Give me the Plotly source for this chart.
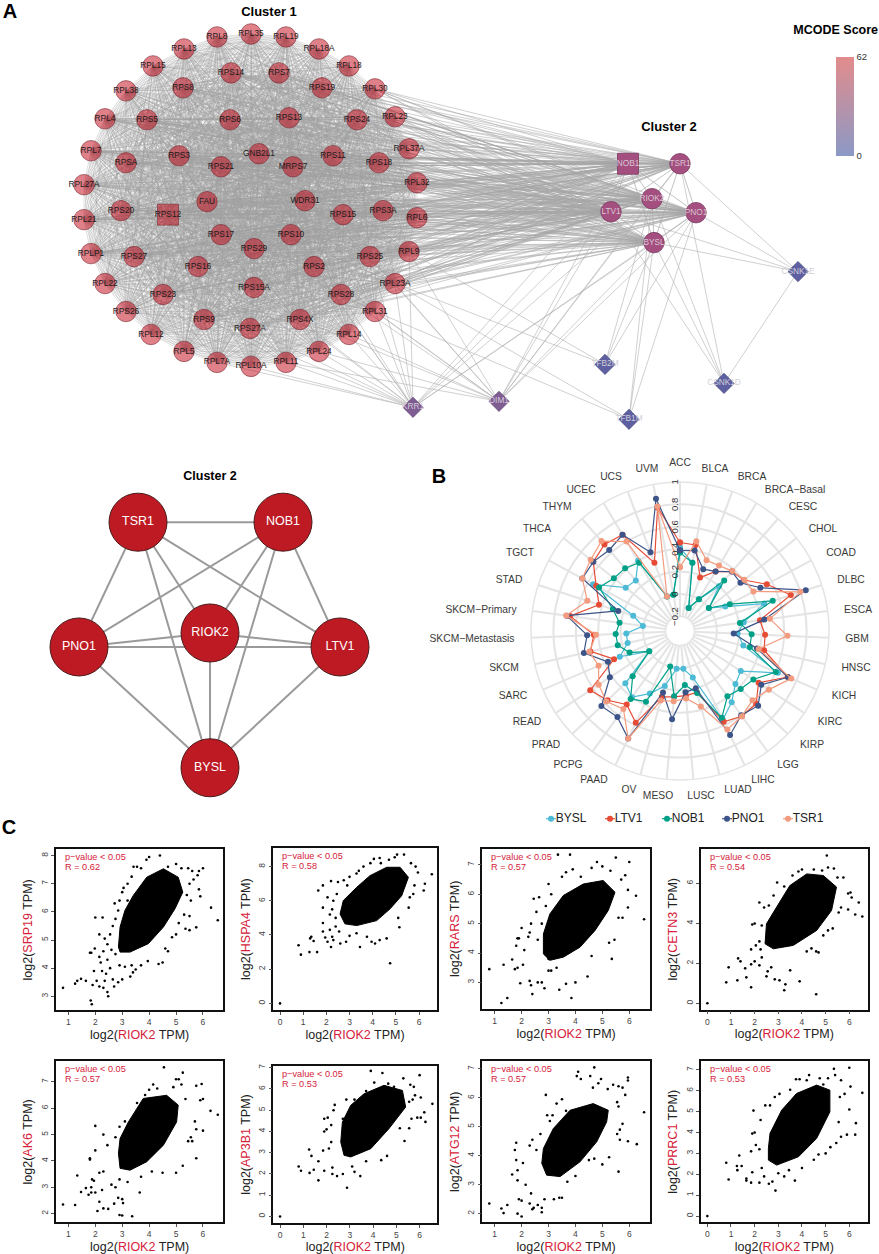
import plotly.graph_objects as go

W, H = 879, 1254
FONT = "Liberation Sans, Arial, sans-serif"

OUTER_NODES = {
 "RPL8":(217,35),"RPL35":(251,32),"RPL19":(286,35),"RPL18A":(319,47),"RPL18":(349,64),"RPL30":(375,87),
 "RPL23":(395,115),"RPL37A":(409,147),"RPL32":(417,181),"RPL6":(417,216),"RPL9":(409,250),"RPL23A":(395,282),
 "RPL31":(375,310),"RPL14":(349,333),"RPL24":(319,350),"RPL11":(286,361),"RPL10A":(251,365),"RPL7A":(217,361),
 "RPL5":(184,350),"RPL12":(151,333),"RPS26":(126,310),"RPL22":(105,282),"RPLP1":(91,252),"RPL21":(84,218),
 "RPL27A":(84,183),"RPL7":(91,149),"RPL4":(105,117),"RPL38":(126,89),"RPL15":(153,64),"RPL13":(184,47)}
INNER_NODES = {
 "RPS14":(231,71),"RPS7":(279,71),"RPS8":(183,86),"RPS19":(322,86),"RPS5":(147,118),"RPS6":(230,118),
 "RPS13":(289,116),"RPS24":(357,118),"RPS3":(179,154),"GNB2L1":(259,152),"RPS11":(333,154),"RPSA":(126,161),
 "RPS21":(221,165),"MRPS7":(293,165),"RPS18":(379,161),"FAU":(207,200),"WDR31":(305,199),"RPS20":(121,209),
 "RPS15":(343,213),"RPS3A":(383,209),"RPS17":(221,233),"RPS10":(291,233),"RPS29":(254,247),
 "RPS27":(134,255),"RPS16":(198,265),"RPS2":(314,265),"RPS25":(370,255),"RPS15A":(254,286),"RPS23":(163,293),
 "RPS28":(341,293),"RPS9":(204,318),"RPS4X":(300,318),"RPS27A":(250,327)}
SQUARE_NODE_C1 = {"RPS12":(168,213)}
CLUSTER2_NODES = {"TSR1":(680,162),"RIOK2":(652,197),"LTV1":(611,210),"PNO1":(696,211),"BYSL":(654,241)}
SQUARE_NODE_C2 = {"NOB1":(628,162)}
DARK_DIAMONDS = {"KRR1":(413,406),"DIM1":(499,400)}
BLUE_DIAMONDS = {"CSNK1E":(798,270),"TFB2M":(605,363),"CSNK1D":(724,382),"TFB1M":(629,418)}

C2_TO_C1 = list(INNER_NODES) + list(SQUARE_NODE_C1) + ["RPL30","RPL23","RPL37A","RPL32","RPL6","RPL9","RPL23A",
            "RPL7","RPL27A","RPL21","RPLP1","RPL4"]
KRR1_TO_C1 = ["RPL11","RPL24","RPL14","RPL31","RPL23A","RPS28","RPS4X","RPS27A","RPS25","RPL9","RPS9","RPS2","RPL10A","RPL7A","RPS15A","RPS10"]
DIM1_TO_C1 = ["RPL14","RPL31","RPL23A","RPS28","RPS25","RPL9","RPS4X","RPL24","RPS2","RPL11"]
OTHER_EDGES = [("KRR1","NOB1"),("KRR1","LTV1"),("KRR1","RIOK2"),("KRR1","BYSL"),("KRR1","PNO1"),
 ("DIM1","NOB1"),("DIM1","LTV1"),("DIM1","RIOK2"),("DIM1","BYSL"),("DIM1","PNO1"),("DIM1","TSR1"),
 ("TFB2M","BYSL"),("TFB2M","PNO1"),("TFB2M","RIOK2"),("TFB2M","RPL23A"),("TFB2M","RPL9"),
 ("TFB1M","BYSL"),("TFB1M","RIOK2"),("TFB1M","PNO1"),("TFB1M","RPL31"),("TFB1M","RPL23A"),
 ("CSNK1D","BYSL"),("CSNK1D","LTV1"),("CSNK1D","TSR1"),("CSNK1D","RIOK2"),("CSNK1D","CSNK1E"),
 ("CSNK1E","TSR1"),("CSNK1E","PNO1"),("CSNK1E","BYSL"),("CSNK1E","LTV1")]

MCODE_RANGE = [0, 62]

# ---------- Cluster 2 detail
DETAIL_NODES = {"TSR1":(138,521),"NOB1":(283,521),"RIOK2":(210,632),"PNO1":(79,646),"LTV1":(340,646),"BYSL":(210,767)}

# ---------- Panel B data
TUMORS = ["ACC","BLCA","BRCA","BRCA−Basal","CESC","CHOL","COAD","DLBC","ESCA","GBM","HNSC","KICH","KIRC","KIRP","LGG",
          "LIHC","LUAD","LUSC","MESO","OV","PAAD","PCPG","PRAD","READ","SARC","SKCM","SKCM−Metastasis","SKCM−Primary",
          "STAD","TGCT","THCA","THYM","UCEC","UCS","UVM"]
BYSL = [0.415,0.29,-0.11,0.0,0.20,0.0,0.13,0.46,0.245,0.185,0.25,0.62,0.32,0.355,0.455,0.55,0.10,0.01,0.01,0.18,0.29,
        0.40,0.345,0.0,0.255,0.15,0.15,0.005,0.11,0.55,0.29,0.27,0.40,0.0,0.0]
LTV1 = [0.46,0.45,0.18,0.29,0.375,0.40,0.55,0.71,0.39,0.43,0.44,0.715,0.51,0.61,0.61,0.57,0.24,0.25,0.26,0.28,0.58,
        0.48,0.565,0.63,0.31,0.49,0.44,0.66,0.43,0.52,0.66,0.695,0.67,0.32,0.79]
NOB1 = [0.37,0.29,-0.11,0.0,0.27,0.0,0.175,0.54,0.21,0.31,0.31,0.60,0.455,0.42,0.39,0.53,0.245,0.155,0.255,0.0,0.37,
        0.42,0.255,0.0,0.16,0.24,0.245,0.215,0.30,0.49,0.425,0.415,0.38,0.0,0.0]
PNO1 = [0.39,0.40,0.26,0.29,0.375,0.36,0.485,0.85,0.43,0.15,0.375,0.72,0.54,0.635,0.60,0.70,0.20,0.22,0.46,0.24,0.735,
        0.62,0.64,0.42,0.37,0.55,0.50,0.69,0.25,0.66,0.66,0.63,0.67,0.42,0.87]
TSR1 = [0.24,0.485,0.345,0.35,0.38,0.405,0.415,0.80,0.48,0.63,0.39,0.75,0.62,0.565,0.61,0.645,0.37,0.275,0.30,0.315,
        0.735,0.53,0.58,0.54,0.46,0.50,0.42,0.695,0.54,0.66,0.69,0.735,0.60,0.0,0.80]
RADAR_SERIES = [("BYSL",BYSL,"#4DBBD5"),("LTV1",LTV1,"#E64B35"),("NOB1",NOB1,"#00A087"),("PNO1",PNO1,"#3C5488"),("TSR1",TSR1,"#F39B7F")]
RADIAL_TICKS = [-0.2,0,0.2,0.4,0.6,0.8,1]
RADIAL_TEXT = ["−0.2","0","0.2","0.4","0.6","0.8","1"]
TUMOR_LABEL_POS = [(680,462),(715,468),(752,476),(795,489),(803,506),(823,528),(841,552),(851,579),(858,609),(857,638),
 (856,668),(844,696),(830,722),(812,745),(788,765),(763,780),(738,790),(701,796),(658,796),(629,790),(594,780),(568,765),
 (546,745),(527,722),(513,696),(504,668),(472,638),(481,609),(509,579),(520,552),(537,528),(557,506),(581,489),(611,476),(647,468)]

# ---------- Panel C data: dense-core outlines and individually read points (log2 TPM)
SRP19_CORE = [(2.86,4.75),(2.92,5.46),(3.1,6.05),(3.41,6.58),(3.91,7.23),(4.53,7.53),(5.08,7.23),(5.25,6.7),(4.96,6.11),(4.53,5.46),(3.97,4.87),(3.29,4.57),(2.92,4.57)]
SRP19_PTS = [(0.8,3.3),(1.25,3.45),(1.33,3.55),(1.47,3.62),(1.65,3.55),(1.83,2.85),(1.87,2.72),(1.9,3.4),(1.95,3.9),(1.8,4.55),(1.85,4.55),(1.98,4.7),(2,5.8),(2.27,5.8),(2.15,5.2),(2.05,3.55),(2.15,3.35),(2.3,3.3),(2.35,3.55),(2.45,3.15),(2.48,3.0),(2.4,3.8),(2.25,3.9),(2.2,4.2),(2.15,4.4),(2.3,4.6),(2.45,4.3),(2.55,4.0),(2.65,3.6),(2.7,3.35),(2.85,3.5),(3.0,3.6),(3.3,3.7),(3.4,3.85),(3.5,3.95),(3.7,4.1),(3.95,4.25),(3.35,4.1),(3.1,4.05),(2.9,4.1),(2.75,4.5),(2.6,4.65),(2.45,4.85),(2.35,5.05),(2.55,5.2),(2.65,5.5),(2.75,5.75),(2.85,6.05),(2.72,6.3),(2.9,6.4),(3,6.7),(3.05,6.85),(3.2,7.0),(3.2,6.4),(3.35,7.25),(3.42,7.6),(3.55,7.6),(3.7,7.55),(3.9,7.85),(4.0,7.95),(4.4,8.0),(4.7,7.6),(5.0,7.7),(5.2,7.55),(5.45,7.55),(5.6,7.45),(5.85,7.45),(6.0,7.55),(5.8,7.3),(5.65,7.15),(5.5,7.0),(5.85,6.8),(5.4,6.6),(5.55,6.4),(5.9,6.55),(6.3,6.15),(6.55,5.7),(5.75,5.45),(5.5,5.35),(5.35,5.4),(5.5,5.85),(5.3,5.9),(5.1,5.6),(4.85,5.1),(4.7,4.6),(4.5,4.2),(4.35,4.15),(4.6,4.7),(5.0,5.2)]
HSPA4_CORE = [(2.59,5.23),(2.73,6.01),(3.31,6.79),(3.88,7.47),(4.6,7.96),(5.18,7.96),(5.54,7.37),(5.25,6.3),(4.75,5.53),(4.17,4.84),(3.31,4.55),(2.8,4.65)]
HSPA4_PTS = [(0,0),(0.8,3.4),(0.9,2.85),(1.27,3.0),(1.3,3.8),(1.35,3.9),(1.45,3.65),(1.6,3.0),(1.65,6.6),(1.85,6.9),(1.85,4.7),(1.85,4.2),(1.95,3.85),(2.05,3.6),(2.2,3.3),(2.15,4.3),(2.25,3.9),(2.3,3.7),(2.4,5.0),(2.15,5.2),(2.05,6.2),(1.85,5.6),(2.2,7.15),(2.5,7.1),(2.75,7.2),(3.0,7.4),(2.9,6.9),(3.3,7.6),(3.4,7.75),(3.6,8.0),(3.9,8.2),(4.05,8.45),(4.3,8.5),(4.35,8.2),(4.7,8.4),(4.95,8.55),(5.05,8.7),(5.35,8.7),(5.65,8.2),(5.85,8.0),(5.95,7.65),(6.55,7.55),(6.25,7.0),(6.2,6.6),(5.8,6.9),(5.6,6.2),(5.75,6.4),(5.55,5.6),(5.1,5.0),(5.15,4.45),(4.75,2.35),(4.6,3.8),(4.3,3.7),(4.1,3.5),(3.95,3.6),(3.45,3.3),(3.75,3.9),(3.3,4.1),(3.0,3.95),(2.85,3.6),(2.6,3.5),(2.55,4.2),(2.4,4.5),(2.25,5.5),(2.3,6.0),(2.45,6.4)]
RARS_CORE = [(2.81,3.97),(2.81,4.65),(3.05,5.33),(3.55,5.96),(4.29,6.35),(5.03,6.47),(5.47,6.07),(5.22,5.45),(4.73,4.77),(4.17,4.2),(3.55,3.86),(3.05,3.75)]
RARS_PTS = [(0.8,3.45),(1.33,3.6),(1.25,2.3),(1.47,2.47),(1.65,3.78),(1.75,3.45),(1.85,3.5),(1.8,4.25),(1.85,4.5),(1.9,4.5),(2.0,4.85),(1.95,2.97),(2.05,3.6),(2.1,4.1),(2.25,4.55),(2.3,4.7),(2.35,5.0),(2.45,5.85),(2.65,5.9),(2.55,5.4),(2.3,3.05),(2.35,2.9),(2.4,2.6),(2.6,3.0),(2.75,3.0),(2.85,2.8),(3.0,3.4),(3.0,3.8),(3.4,2.75),(3.65,2.95),(3.85,2.47),(4.0,3.0),(4.45,3.2),(4.6,3.9),(5.35,3.8),(5.45,4.45),(5.25,4.35),(5.6,5.2),(5.75,5.2),(5.95,5.55),(6.25,5.95),(6.55,5.15),(5.95,6.15),(6.0,7.1),(5.5,7.25),(5.7,6.5),(5.85,6.65),(5.3,6.8),(5.0,6.95),(4.8,7.1),(4.6,6.9),(3.8,7.35),(3.35,7.35),(3.9,6.85),(3.5,6.6),(3.65,6.75),(3.1,6.0),(3.0,6.35),(2.9,5.6),(2.75,5.0),(2.6,4.45),(4.2,6.6),(3.1,3.4),(3.3,3.5)]
CETN3_CORE = [(2.44,2.98),(2.5,3.98),(2.93,4.82),(3.49,5.9),(4.2,6.48),(4.9,6.4),(5.46,5.82),(5.25,4.65),(4.62,3.65),(3.63,2.9),(2.79,2.73)]
CETN3_PTS = [(0,0),(0.8,1.05),(0.9,1.8),(1.27,1.15),(1.3,2.25),(1.4,2.1),(1.65,1.3),(1.6,1.75),(1.85,0.8),(1.85,1.95),(1.85,2.7),(2.0,2.1),(2.2,1.9),(2.25,2.7),(2.3,2.3),(2.5,1.35),(2.55,1.6),(2.7,1.8),(2.85,1.2),(3.05,1.15),(3.25,0.65),(3.3,0.95),(3.5,1.65),(3.9,1.1),(4.6,0.45),(5.05,7.4),(4.2,2.6),(4.4,2.75),(4.6,2.6),(4.7,2.55),(2.0,4.0),(1.9,3.95),(2.2,3.1),(2.2,5.05),(2.4,4.8),(2.6,4.9),(2.8,5.4),(2.95,6.05),(3.25,5.85),(3.6,6.4),(3.85,6.6),(4.0,6.7),(4.5,6.7),(4.85,6.65),(5.1,6.8),(5.35,6.75),(5.5,6.3),(5.75,6.3),(5.95,5.5),(6.05,5.55),(6.1,5.3),(6.4,5.05),(6.55,4.35),(6.25,4.45),(5.95,4.7),(5.65,4.8),(5.55,4.55),(5.3,3.75),(5.1,3.65),(4.9,3.4),(2.3,3.9),(2.05,2.9)]
AK6_CORE = [(2.86,4.29),(2.92,4.85),(3.23,5.48),(3.78,6.37),(4.65,6.49),(5.08,6.12),(5.02,5.48),(4.53,4.6),(3.91,3.97),(3.29,3.65),(2.92,3.72)]
AK6_PTS = [(0.8,2.35),(1.25,2.33),(1.33,3.45),(1.47,2.82),(1.65,2.97),(1.75,2.72),(1.85,2.8),(1.85,3.0),(1.88,3.3),(1.95,3.25),(2.0,2.8),(2.0,5.33),(2.08,2.1),(2.15,2.45),(2.25,2.9),(2.3,2.2),(2.48,2.18),(2.7,2.38),(2.85,2.6),(2.9,1.95),(3.0,1.93),(3.0,2.55),(3.03,2.4),(3.37,1.9),(3.65,2.8),(1.8,4.05),(1.8,4.1),(2.0,4.4),(2.15,3.55),(2.3,3.6),(2.3,5.0),(2.45,4.6),(2.6,3.1),(2.75,3.0),(2.9,3.3),(3.2,3.2),(3.7,3.4),(4.1,3.6),(4.5,3.55),(5.0,3.55),(5.25,3.82),(5.75,4.1),(5.45,4.75),(5.6,4.75),(5.55,4.9),(5.75,5.2),(6.0,5.15),(5.7,5.5),(5.9,6.3),(6.0,6.35),(6.28,5.9),(6.55,5.75),(5.95,6.92),(5.75,6.85),(5.35,6.35),(5.25,7.35),(5.0,7.1),(5.1,7.1),(4.55,7.55),(5.2,6.9),(4.9,6.8),(4.15,6.9),(4.0,6.7),(3.85,6.5),(3.55,6.2),(3.1,5.5),(2.9,5.3),(2.75,4.9),(4.3,6.75)]
AP3B1_CORE = [(2.61,3.5),(2.68,4.44),(3.04,5.23),(3.61,5.77),(4.47,6.17),(5.26,5.93),(5.4,5.15),(4.68,4.13),(3.9,3.19),(3.04,2.8),(2.75,2.88)]
AP3B1_PTS = [(0,0),(0.8,2.35),(0.9,2.15),(1.27,2.05),(1.25,3.15),(1.35,2.85),(1.45,2.2),(1.65,1.7),(1.65,2.6),(1.9,2.15),(1.85,3.1),(1.9,4.6),(2.05,4.65),(1.9,4.0),(2.0,4.1),(2.1,3.2),(2.2,3.5),(2.25,2.3),(2.25,2.0),(2.35,5.25),(2.2,4.3),(2.3,5.0),(2.45,1.9),(2.7,2.0),(2.88,1.35),(3.2,2.1),(3.45,1.9),(3.1,2.35),(3.7,2.6),(4.35,2.65),(4.6,2.85),(5.35,3.55),(5.15,4.15),(5.55,4.15),(5.65,4.6),(5.9,4.65),(6.05,4.65),(6.25,4.45),(6.2,4.9),(6.55,5.3),(6.05,5.6),(5.8,5.7),(6.0,6.65),(5.75,6.1),(5.6,6.2),(5.3,6.5),(4.9,6.1),(4.65,6.25),(4.4,6.75),(3.9,6.85),(4.05,6.3),(3.7,5.9),(3.2,5.5),(2.85,5.5),(2.7,4.6),(5.55,5.4),(5.7,5.5)]
ATG12_CORE = [(2.75,3.74),(2.81,4.25),(3.18,4.94),(3.8,5.57),(4.66,5.8),(5.22,5.57),(5.16,5.17),(4.79,4.48),(4.17,3.79),(3.43,3.28),(2.93,3.33)]
ATG12_PTS = [(0.8,2.35),(1.25,2.18),(1.33,2.02),(1.47,2.3),(1.65,3.35),(1.75,4.2),(1.8,3.85),(1.8,4.45),(1.85,3.15),(1.85,3.5),(1.85,2.0),(1.9,2.5),(2.0,2.45),(2.0,1.9),(2.05,3.75),(2.15,3.0),(2.3,2.35),(2.35,2.7),(2.4,2.15),(2.45,2.2),(2.6,2.3),(2.75,2.05),(2.85,2.5),(2.75,2.2),(3.2,2.5),(3.4,2.55),(3.5,2.55),(3.7,3.1),(2.4,4.55),(2.3,4.35),(2.55,4.2),(2.7,4.75),(2.9,6.1),(2.95,5.4),(3.15,5.4),(3.3,5.8),(3.5,5.95),(3.65,5.55),(3.05,5.2),(4.05,6.75),(4.1,6.9),(4.2,6.65),(4.55,6.75),(4.7,7.05),(4.85,6.5),(4.95,6.65),(4.65,6.35),(5.2,6.3),(5.4,6.45),(5.6,6.4),(5.75,6.35),(5.95,6.6),(5.95,6.7),(5.85,6.1),(5.6,5.7),(6.55,5.5),(5.55,5.85),(5.75,5.1),(5.65,4.9),(5.55,4.75),(5.65,4.55),(5.95,4.5),(6.28,4.4),(5.6,3.45),(5.25,3.95),(5.0,3.7),(4.7,3.9),(4.5,3.85),(4.0,3.3)]
PRRC1_CORE = [(2.58,3.24),(2.65,3.96),(3.14,5.07),(3.77,5.87),(4.62,6.27),(5.18,6.03),(5.18,4.99),(4.62,3.72),(3.85,2.84),(2.93,2.44),(2.58,2.68)]
PRRC1_PTS = [(0,0),(0.8,2.55),(0.9,1.75),(1.25,2.4),(1.27,2.2),(1.35,2.9),(1.45,2.4),(1.65,1.7),(1.65,1.8),(1.85,1.6),(1.9,2.1),(1.85,3.1),(1.9,3.95),(2.0,4.0),(1.95,5.05),(2.05,3.4),(2.2,3.2),(2.2,1.6),(2.3,2.3),(2.4,1.9),(2.6,1.55),(2.88,1.22),(2.75,1.65),(3.0,2.05),(3.25,1.9),(3.7,1.7),(3.45,2.2),(4.0,2.3),(4.5,2.7),(4.7,2.95),(5.0,3.0),(5.2,3.3),(5.45,3.5),(5.65,3.8),(5.9,3.9),(6.25,3.9),(6.28,4.45),(6.0,5.1),(5.55,4.5),(5.6,5.7),(5.8,5.85),(6.05,6.2),(6.0,7.1),(6.55,5.9),(5.65,6.5),(5.35,7.05),(5.4,6.75),(5.1,6.6),(4.75,6.6),(4.3,6.75),(4.2,6.5),(3.9,6.55),(3.75,6.55),(3.5,6.05),(3.05,5.85),(2.65,5.3),(2.45,5.3),(2.25,4.6),(2.85,5.7),(4.9,6.3)]

# gene, R, core, points, frame (left, right, top, bottom px), x range, y range, y tick step
PANELS = [
 ("SRP19","0.62",SRP19_CORE,SRP19_PTS,(56,223.3,848.7,1010),(0.54,6.755),(2.50,8.22),1),
 ("HSPA4","0.58",HSPA4_CORE,HSPA4_PTS,(273.3,436.7,847.3,1010),(-0.29,6.76),(-0.41,9.09),2),
 ("RARS","0.57",RARS_CORE,RARS_PTS,(482.3,650,848,1008.7),(0.54,6.77),(2.09,7.555),1),
 ("CETN3","0.54",CETN3_CORE,CETN3_PTS,(700.7,868,848.3,1009.3),(-0.28,6.79),(-0.32,7.73),2),
 ("AK6","0.57",AK6_CORE,AK6_PTS,(56,223.3,1061,1222.3),(0.54,6.755),(1.67,7.78),1),
 ("AP3B1","0.53",AP3B1_CORE,AP3B1_PTS,(273.3,437.3,1065.7,1223),(-0.29,6.76),(-0.31,7.08),1),
 ("ATG12","0.57",ATG12_CORE,ATG12_PTS,(482.3,650,1061,1222.3),(0.54,6.77),(1.70,7.26),1),
 ("PRRC1","0.53",PRRC1_CORE,PRRC1_PTS,(700.7,868,1061,1222.3),(-0.28,6.79),(-0.30,7.41),1),
]
RED = "#D6213A"

# ---------- Build figure
fig = go.Figure()
ALL_POS = {}
for d in (OUTER_NODES, INNER_NODES, SQUARE_NODE_C1, CLUSTER2_NODES, SQUARE_NODE_C2, DARK_DIAMONDS, BLUE_DIAMONDS):
    ALL_POS.update(d)

def add_edges(pairs, pos, color, width):
    xs, ys = [], []
    for a, b in pairs:
        xs += [pos[a][0], pos[b][0], None]
        ys += [pos[a][1], pos[b][1], None]
    fig.add_trace(go.Scatter(x=xs, y=ys, mode="lines", line=dict(color=color, width=width), hoverinfo="skip", showlegend=False))

def add_nodes(nodes, symbol, size, color, edge, text_color, text_size=8.3):
    fig.add_trace(go.Scatter(
        x=[p[0] for p in nodes.values()], y=[p[1] for p in nodes.values()], mode="markers+text",
        text=list(nodes), textposition="middle center", textfont=dict(family=FONT, size=text_size, color=text_color),
        marker=dict(symbol=symbol, size=size, color=color, line=dict(color=edge, width=0.8)),
        hoverinfo="skip", showlegend=False, cliponaxis=False))

def page_text(x, y, text, size=12, color="#000", bold=False):
    fig.add_trace(go.Scatter(x=[x], y=[y], mode="text", text=[f"<b>{text}</b>" if bold else text],
        textposition="middle center", textfont=dict(family=FONT, size=size, color=color),
        hoverinfo="skip", showlegend=False, cliponaxis=False))

c1_names = list(OUTER_NODES) + list(INNER_NODES) + list(SQUARE_NODE_C1)
c1_pairs = [(a, b) for i, a in enumerate(c1_names) for b in c1_names[i+1:]]
c2_names = list(CLUSTER2_NODES) + list(SQUARE_NODE_C2)
c2_pairs = [(a, b) for i, a in enumerate(c2_names) for b in c2_names[i+1:]]
cross = [(a, b) for a in c2_names for b in C2_TO_C1]
add_edges(cross, ALL_POS, "rgba(165,165,165,0.75)", 0.7)
add_edges([("KRR1", n) for n in KRR1_TO_C1] + [("DIM1", n) for n in DIM1_TO_C1] + OTHER_EDGES, ALL_POS, "rgba(175,175,175,0.85)", 0.7)
add_edges(c2_pairs, ALL_POS, "rgba(170,170,170,0.9)", 0.8)
add_edges(c1_pairs, ALL_POS, "rgba(160,160,160,0.62)", 0.55)

C1_FILL = "rgba(193,1,17,0.5)"
C1_EDGE = "rgba(120,40,50,0.75)"
add_nodes(OUTER_NODES, "circle", 20.5, C1_FILL, C1_EDGE, "#1c1c1c")
add_nodes(INNER_NODES, "circle", 20.5, C1_FILL, C1_EDGE, "#1c1c1c")
add_nodes(SQUARE_NODE_C1, "square", 21, C1_FILL, C1_EDGE, "#1c1c1c")
add_nodes(CLUSTER2_NODES, "circle", 20.5, "#A44F7F", "#7A3A62", "#D9C6D3")
add_nodes(SQUARE_NODE_C2, "square", 21, "#A44F7F", "#7A3A62", "#D9C6D3")
add_nodes(DARK_DIAMONDS, "diamond", 15.5, "#7F5C92", "#644A78", "#D6CCDC")
add_nodes(BLUE_DIAMONDS, "diamond", 15.5, "#5F60A2", "#4A4B85", "#CFCFD6")

# colour key
fig.add_trace(go.Scatter(x=[None, None], y=[None, None], mode="markers", showlegend=False, hoverinfo="skip",
    marker=dict(color=MCODE_RANGE, cmin=MCODE_RANGE[0], cmax=MCODE_RANGE[1],
        colorscale=[[0, "#8B99C6"], [1, "#E28C8C"]],
        colorbar=dict(x=835.7/W, xanchor="left", y=1-154.3/H, yanchor="bottom", len=99.6/H, lenmode="fraction",
            thickness=18, outlinewidth=0, ticks="", ticklabelposition="outside left", tickvals=MCODE_RANGE,
            ticktext=[str(v) for v in MCODE_RANGE], tickfont=dict(family=FONT, size=9.5, color="#333"), xpad=0, ypad=0))))

# detail graph
det_names = list(DETAIL_NODES)
add_edges([(a, b) for i, a in enumerate(det_names) for b in det_names[i+1:]], DETAIL_NODES, "#9A9A9A", 2)
fig.add_trace(go.Scatter(x=[p[0] for p in DETAIL_NODES.values()], y=[p[1] for p in DETAIL_NODES.values()],
    mode="markers+text", text=det_names, textposition="middle center", textfont=dict(family=FONT, size=12.5, color="white"),
    marker=dict(size=58, color="#BE1A24", line=dict(color="#4A1A1A", width=1)), hoverinfo="skip", showlegend=False, cliponaxis=False))

# titles and panel letters
page_text(269, 11, "Cluster 1", 13, bold=True)
page_text(669, 126, "Cluster 2", 13, bold=True)
page_text(210, 476, "Cluster 2", 12.5, bold=True)
page_text(835.7, 28.5, "MCODE Score", 12.5, bold=True)
page_text(10, 11, "A", 20, bold=True)
page_text(439, 477, "B", 20, bold=True)
page_text(9, 828, "C", 20, bold=True)

# radar
for name, vals, col in RADAR_SERIES:
    fig.add_trace(go.Scatterpolar(r=vals + vals[:1], theta=TUMORS + TUMORS[:1], mode="lines+markers",
        line=dict(color=col, width=1.2), marker=dict(size=6, color=col), name=name, showlegend=False, hoverinfo="skip"))
for label, (x, y) in zip(TUMORS, TUMOR_LABEL_POS):
    page_text(x, y, label, 10.3, "#3a3a3a")

# legend row
LEGEND_X = [551, 610, 667, 727, 788]
for (name, vals, col), lx in zip(RADAR_SERIES, LEGEND_X):
    fig.add_trace(go.Scatter(x=[lx-5, lx, lx+5], y=[818]*3, mode="lines", line=dict(color=col, width=1.2), hoverinfo="skip", showlegend=False))
    fig.add_trace(go.Scatter(x=[lx], y=[818], mode="markers+text", text=[name], textposition="middle right",
        textfont=dict(family=FONT, size=12, color="#222"), marker=dict(size=6, color=col), hoverinfo="skip", showlegend=False, cliponaxis=False))

# scatter panels
layout_axes = {}
annos = []
for i, (gene, r, core, pts, (l, rt, t, b), xr, yr, ystep) in enumerate(PANELS):
    n = i + 2
    xa, ya = f"x{n}", f"y{n}"
    fig.add_trace(go.Scatter(x=[p[0] for p in core]+[core[0][0]], y=[p[1] for p in core]+[core[0][1]], mode="lines",
        fill="toself", fillcolor="black", line=dict(color="black", width=1), xaxis=xa, yaxis=ya, hoverinfo="skip", showlegend=False))
    fig.add_trace(go.Scatter(x=[p[0] for p in pts], y=[p[1] for p in pts], mode="markers", marker=dict(size=2.6, color="black"),
        xaxis=xa, yaxis=ya, hoverinfo="skip", showlegend=False))
    common = dict(showgrid=False, zeroline=False, showline=True, mirror=True, linecolor="#111", linewidth=1.5,
                  ticks="outside", ticklen=3, tickwidth=0.8, tickcolor="#555", tickfont=dict(family=FONT, size=8.5, color="#444"))
    layout_axes[f"xaxis{n}"] = dict(common, domain=[l/W, rt/W], range=list(xr), dtick=1, anchor=ya, tickangle=0,
        title=dict(text=f'log2(<span style="color:{RED}">RIOK2</span> TPM)', font=dict(family=FONT, size=12.5, color="#222"), standoff=4))
    layout_axes[f"yaxis{n}"] = dict(common, domain=[1-b/H, 1-t/H], range=list(yr), dtick=ystep, anchor=xa, tickangle=-90,
        title=dict(text=f'log2(<span style="color:{RED}">{gene}</span> TPM)', font=dict(family=FONT, size=12.5, color="#222"), standoff=4))
    annos.append(dict(xref="paper", yref="paper", x=(l+7)/W, y=1-(t+8)/H, xanchor="left", yanchor="middle", showarrow=False,
        text="p−value &lt; 0.05", font=dict(family=FONT, size=9.2, color=RED)))
    annos.append(dict(xref="paper", yref="paper", x=(l+7)/W, y=1-(t+18)/H, xanchor="left", yanchor="middle", showarrow=False,
        text=f"R = {r}", font=dict(family=FONT, size=9.2, color=RED)))

cx, cy, rad = 680, 630, 149.3
fig.update_layout(
    width=W, height=H, autosize=False, margin=dict(l=0, r=0, t=0, b=0), paper_bgcolor="white", plot_bgcolor="rgba(0,0,0,0)",
    showlegend=False, annotations=annos,
    xaxis=dict(domain=[0, 1], range=[0, W], visible=False, fixedrange=True),
    yaxis=dict(domain=[0, 1], range=[H, 0], visible=False, fixedrange=True),
    polar=dict(domain=dict(x=[(cx-rad)/W, (cx+rad)/W], y=[1-(cy+rad)/H, 1-(cy-rad)/H]), hole=14.5/149.3, bgcolor="rgba(0,0,0,0)",
        radialaxis=dict(range=[-0.2, 1], angle=90, side="counterclockwise", tickmode="array", tickvals=RADIAL_TICKS, ticktext=RADIAL_TEXT,
            tickangle=0, ticks="", showline=False, gridcolor="#E4E4E4", gridwidth=1.5, tickfont=dict(family=FONT, size=9.5, color="#333")),
        angularaxis=dict(type="category", categoryorder="array", categoryarray=TUMORS, rotation=90, direction="clockwise",
            showticklabels=False, ticks="", showline=True, linecolor="#E4E4E4", linewidth=1.5, gridcolor="#E4E4E4", gridwidth=1.5)),
    **layout_axes)

fig.write_html("out.html", config=dict(displayModeBar=False, responsive=False),
               post_script="document.body.style.margin='0';document.body.style.overflow='hidden';")
